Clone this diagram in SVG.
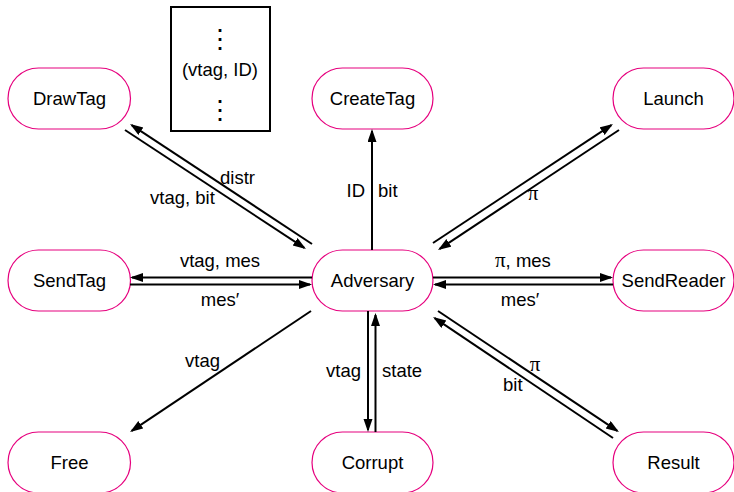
<svg xmlns="http://www.w3.org/2000/svg" width="734" height="492" viewBox="0 0 734 492">
<defs>
<marker id="ah" markerUnits="userSpaceOnUse" markerWidth="14" markerHeight="10" refX="11" refY="4.5" orient="auto">
<path d="M0,0 L13,4.5 L0,9 z" fill="#000"/>
</marker>
<style>
.node rect{fill:#fff;stroke:#e6007e;stroke-width:1.2}
text{font-family:"Liberation Sans",Arial,sans-serif;font-size:18.5px;fill:#000}
.nl{text-anchor:middle}
.pi{font-family:"Liberation Serif","Times New Roman",serif;font-size:21px}
.vd{font-family:"Noto Sans CJK JP",sans-serif;font-size:26px;font-weight:300;text-anchor:middle}
.c line{stroke:#000;stroke-width:2;fill:none}
.c .a{marker-end:url(#ah)}
</style>
</defs>
<rect width="734" height="492" fill="#fff"/>

<g id="store">
<rect x="171" y="7" width="99" height="124" fill="#fff" stroke="#000" stroke-width="2"/>
<text x="220" y="47.5" class="vd">⋮</text>
<text x="220" y="76" class="nl">(vtag, ID)</text>
<text x="220" y="118.5" class="vd">⋮</text>
</g>

<g id="DrawTag" class="node"><rect x="8" y="68" width="122.5" height="61" rx="30.5"/><text x="69.5" y="104.5" class="nl">DrawTag</text></g>
<g id="CreateTag" class="node"><rect x="312" y="68" width="121" height="61" rx="30.5"/><text x="372.5" y="104.5" class="nl">CreateTag</text></g>
<g id="Launch" class="node"><rect x="613" y="68" width="121" height="61" rx="30.5"/><text x="673.5" y="104.5" class="nl">Launch</text></g>
<g id="SendTag" class="node"><rect x="8" y="250" width="122.5" height="61" rx="30.5"/><text x="69.5" y="286.5" class="nl">SendTag</text></g>
<g id="Adversary" class="node"><rect x="312" y="250" width="121" height="61" rx="30.5"/><text x="372.5" y="286.5" class="nl">Adversary</text></g>
<g id="SendReader" class="node"><rect x="613" y="250" width="121" height="61" rx="30.5"/><text x="673.5" y="286.5" class="nl">SendReader</text></g>
<g id="Free" class="node"><rect x="8" y="432" width="122.5" height="61" rx="30.5"/><text x="69.5" y="468.5" class="nl">Free</text></g>
<g id="Corrupt" class="node"><rect x="312" y="432" width="121" height="61" rx="30.5"/><text x="372.5" y="468.5" class="nl">Corrupt</text></g>
<g id="Result" class="node"><rect x="613" y="432" width="121" height="61" rx="30.5"/><text x="673.5" y="468.5" class="nl">Result</text></g>

<g id="connectors" class="c">
<line class="a" x1="372" y1="250" x2="372" y2="131"/>
<line class="a" x1="125" y1="130" x2="304.3" y2="247.9"/>
<line class="a" x1="312" y1="244" x2="131.7" y2="125.1"/>
<line class="a" x1="312" y1="277.5" x2="132" y2="277.5"/>
<line class="a" x1="130" y1="284.5" x2="310" y2="284.5"/>
<line class="a" x1="433" y1="277.5" x2="611" y2="277.5"/>
<line class="a" x1="613" y1="284.5" x2="435" y2="284.5"/>
<line class="a" x1="433" y1="243" x2="611.3" y2="125.1"/>
<line class="a" x1="619" y1="130" x2="439.7" y2="248.9"/>
<line class="a" x1="438" y1="311" x2="617.3" y2="430.9"/>
<line class="a" x1="613" y1="438" x2="434.7" y2="318.1"/>
<line class="a" x1="311" y1="311" x2="131.7" y2="430.9"/>
<line class="a" x1="368" y1="311" x2="368" y2="430"/>
<line class="a" x1="375.5" y1="432" x2="375.5" y2="315"/>
</g>

<g id="labels">
<text x="365" y="197" text-anchor="end">ID</text>
<text x="378" y="197">bit</text>
<text x="220" y="184">distr</text>
<text x="150" y="204">vtag, bit</text>
<text x="220" y="267" class="nl">vtag, mes</text>
<text x="220" y="306" class="nl">mes′</text>
<text x="495" y="267"><tspan class="pi">π</tspan>, mes</text>
<text x="520" y="306" class="nl">mes′</text>
<text x="533" y="200" class="nl pi">π</text>
<text x="185" y="367">vtag</text>
<text x="361" y="377" text-anchor="end">vtag</text>
<text x="382" y="377">state</text>
<text x="535" y="371" class="nl pi">π</text>
<text x="503" y="391">bit</text>
</g>
</svg>
